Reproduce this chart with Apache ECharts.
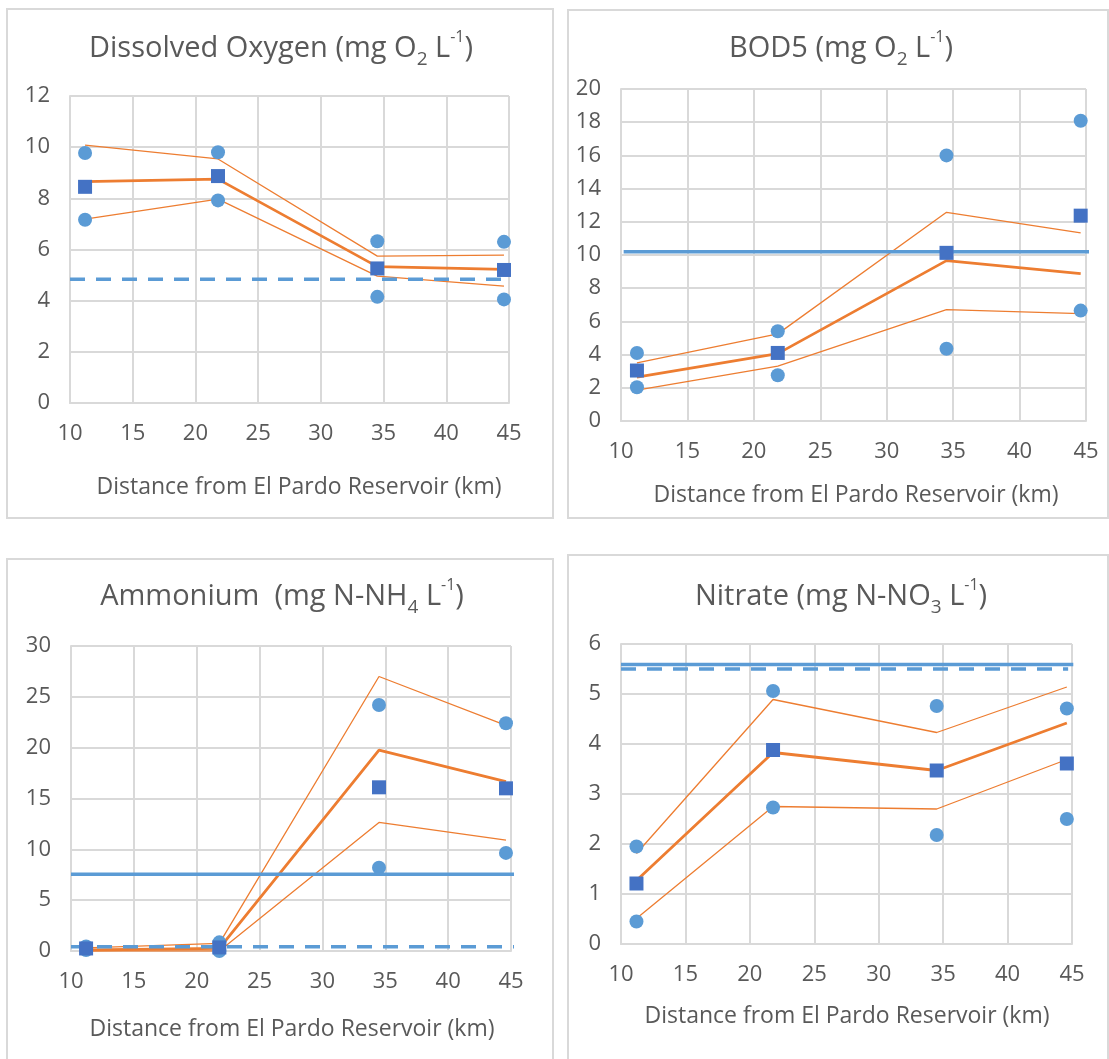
<!DOCTYPE html>
<html><head><meta charset="utf-8">
<script src="https://cdn.jsdelivr.net/npm/echarts@6/dist/echarts.min.js"></script>
<style>html,body{margin:0;padding:0;background:#fff}#c{width:1109px;height:1059px}</style>
</head><body><div id="c"></div>
<script>
// ---------- data ----------
const xTickLabels = [10, 15, 20, 25, 30, 35, 40, 45];
const distance = [11.2, 21.8, 34.5, 44.6];

// Dissolved oxygen (mg O2 L-1)
const doMax = [9.77, 9.8, 6.32, 6.3];
const doMin = [7.16, 7.92, 4.15, 4.05];
const doMean = [8.45, 8.87, 5.26, 5.2];
const doFit = [8.65, 8.75, 5.33, 5.22];
const doFitUp = [10.08, 9.54, 5.74, 5.78];
const doFitLow = [7.19, 7.97, 4.96, 4.57];
const doLimitDashed = 4.84;
const doDashedSpan = [10, 45.6];

// BOD5 (mg O2 L-1)
const bodMax = [4.1, 5.41, 16.0, 18.09];
const bodMin = [2.03, 2.76, 4.35, 6.65];
const bodMean = [3.04, 4.1, 10.13, 12.37];
const bodFit = [2.64, 4.06, 9.66, 8.88];
const bodFitUp = [3.5, 5.25, 12.57, 11.33];
const bodFitLow = [1.86, 3.3, 6.71, 6.47];
const bodLimitSolid = 10.19;
const bodSolidSpan = [10.2, 45.4];

// Ammonium (mg N-NH4 L-1)
const nhMax = [0.45, 0.85, 24.2, 22.4];
const nhMin = [0.1, 0.0, 8.2, 9.65];
const nhMean = [0.25, 0.35, 16.1, 16.0];
const nhFit = [0.1, 0.25, 19.75, 16.65];
const nhFitUp = [0.3, 0.75, 27.0, 22.2];
const nhFitLow = [0.0, 0.0, 12.65, 10.9];
const nhLimitSolid = 7.54;
const nhLimitDashed = 0.42;
const nhSolidSpan = [10, 45.5];
const nhDashedSpan = [10, 45.7];

// Nitrate (mg N-NO3 L-1)
const no3Max = [1.95, 5.06, 4.76, 4.71];
const no3Min = [0.45, 2.73, 2.18, 2.5];
const no3Mean = [1.21, 3.88, 3.47, 3.61];
const no3Fit = [1.27, 3.83, 3.47, 4.42];
const no3FitUp = [1.81, 4.89, 4.23, 5.14];
const no3FitLow = [0.51, 2.75, 2.7, 3.69];
const no3LimitSolid = 5.59;
const no3LimitDashed = 5.5;
const no3SolidSpan = [10, 45.1];
const no3DashedSpan = [10, 44.7];

// ---------- styling ----------
const FONT = 'Open Sans';
const TXT = '#595959';
const GRID = '#d9d9d9';
const ORANGE = '#ed7d31';
const LBLUE = '#5b9bd5';
const DBLUE = '#4472c4';

const pair = (ys) => distance.map((x, i) => [x, ys[i]]);
const hline = (span, v) => span.map(x => [x, v]);

const panels = [
  { title: 'Dissolved Oxygen (mg O{sub|2} L{sup|-1})', tx: 281, ty: 49, nx: 299, ny: 487,
    grid: { left: 70, top: 96, width: 439, height: 307 }, yMax: 12, yInt: 2,
    max: doMax, min: doMin, mean: doMean, fit: doFit, up: doFitUp, low: doFitLow,
    solid: null, dashed: [doDashedSpan, doLimitDashed] },
  { title: 'BOD5 (mg O{sub|2} L{sup|-1})', tx: 841, ty: 49, nx: 856, ny: 495,
    grid: { left: 621, top: 89, width: 465, height: 332 }, yMax: 20, yInt: 2,
    max: bodMax, min: bodMin, mean: bodMean, fit: bodFit, up: bodFitUp, low: bodFitLow,
    solid: [bodSolidSpan, bodLimitSolid], dashed: null },
  { title: 'Ammonium  (mg N-NH{sub|4} L{sup|-1})', tx: 282, ty: 597, nx: 292, ny: 1029,
    grid: { left: 71, top: 646, width: 440, height: 305 }, yMax: 30, yInt: 5,
    max: nhMax, min: nhMin, mean: nhMean, fit: nhFit, up: nhFitUp, low: nhFitLow,
    solid: [nhSolidSpan, nhLimitSolid], dashed: [nhDashedSpan, nhLimitDashed] },
  { title: 'Nitrate (mg N-NO{sub|3} L{sup|-1})', tx: 841, ty: 597, nx: 847, ny: 1016,
    grid: { left: 621, top: 644, width: 451, height: 300 }, yMax: 6, yInt: 1,
    max: no3Max, min: no3Min, mean: no3Mean, fit: no3Fit, up: no3FitUp, low: no3FitLow,
    solid: [no3SolidSpan, no3LimitSolid], dashed: [no3DashedSpan, no3LimitDashed] }
];

const titleRich = {
  sub: { fontFamily: FONT, fontSize: 19, color: TXT, verticalAlign: 'bottom', lineHeight: 20 },
  sup: { fontFamily: FONT, fontSize: 16, color: TXT, verticalAlign: 'top', lineHeight: 26 }
};

const option = {
  animation: false,
  backgroundColor: '#fff',
  graphic: [
    { type: 'rect', shape: { x: 7, y: 9, width: 546, height: 509 }, style: { fill: 'none', stroke: GRID, lineWidth: 2 }, z: -1 },
    { type: 'rect', shape: { x: 568, y: 10, width: 540, height: 508 }, style: { fill: 'none', stroke: GRID, lineWidth: 2 }, z: -1 },
    { type: 'rect', shape: { x: 7, y: 559, width: 546, height: 520 }, style: { fill: 'none', stroke: GRID, lineWidth: 2 }, z: -1 },
    { type: 'rect', shape: { x: 568, y: 555, width: 540, height: 520 }, style: { fill: 'none', stroke: GRID, lineWidth: 2 }, z: -1 }
  ],
  title: [],
  grid: [], xAxis: [], yAxis: [], series: []
};

panels.forEach((p, i) => {
  option.title.push({
    text: p.title, left: p.tx, top: p.ty, textAlign: 'center', textVerticalAlign: 'middle', padding: 0,
    textStyle: { fontFamily: FONT, fontSize: 29, fontWeight: 'normal', color: TXT, lineHeight: 40, rich: titleRich }
  });
  option.title.push({
    text: 'Distance from El Pardo Reservoir (km)', left: p.nx, top: p.ny, textAlign: 'center', textVerticalAlign: 'middle', padding: 0,
    textStyle: { fontFamily: FONT, fontSize: 23, fontWeight: 'normal', color: TXT }
  });
  option.grid.push(Object.assign({ containLabel: false }, p.grid));
  option.xAxis.push({
    type: 'value', gridIndex: i, min: xTickLabels[0], max: xTickLabels[xTickLabels.length - 1], interval: 5,
    axisLine: { show: true, lineStyle: { color: GRID, width: 2 } }, axisTick: { show: false },
    splitLine: { show: true, lineStyle: { color: GRID, width: 2 } },
    axisLabel: { color: TXT, fontFamily: FONT, fontSize: 22, margin: 20 }
  });
  option.yAxis.push({
    type: 'value', gridIndex: i, min: 0, max: p.yMax, interval: p.yInt,
    axisLine: { show: true, lineStyle: { color: GRID, width: 2 } }, axisTick: { show: false },
    splitLine: { show: true, lineStyle: { color: GRID, width: 2 } },
    axisLabel: { color: TXT, fontFamily: FONT, fontSize: 22, margin: 20 }
  });
  const base = { xAxisIndex: i, yAxisIndex: i, silent: true };
  const thin = { type: 'line', symbol: 'none', lineStyle: { color: ORANGE, width: 1.3 }, z: 2 };
  option.series.push(Object.assign({}, base, thin, { data: pair(p.up) }));
  option.series.push(Object.assign({}, base, thin, { data: pair(p.low) }));
  option.series.push(Object.assign({}, base, { type: 'line', symbol: 'none', lineStyle: { color: ORANGE, width: 2.8 }, z: 2, data: pair(p.fit) }));
  if (p.solid) option.series.push(Object.assign({}, base, { type: 'line', symbol: 'none', clip: false, lineStyle: { color: LBLUE, width: 3.5 }, z: 3, data: hline(p.solid[0], p.solid[1]) }));
  if (p.dashed) option.series.push(Object.assign({}, base, { type: 'line', symbol: 'none', clip: false, lineStyle: { color: LBLUE, width: 3.5, type: [15, 11] }, z: 3, data: hline(p.dashed[0], p.dashed[1]) }));
  option.series.push(Object.assign({}, base, { type: 'scatter', symbol: 'circle', symbolSize: 14, itemStyle: { color: LBLUE, opacity: 1 }, z: 4, data: pair(p.max) }));
  option.series.push(Object.assign({}, base, { type: 'scatter', symbol: 'circle', symbolSize: 14, itemStyle: { color: LBLUE, opacity: 1 }, z: 4, data: pair(p.min) }));
  option.series.push(Object.assign({}, base, { type: 'scatter', symbol: 'rect', symbolSize: 14, itemStyle: { color: DBLUE, opacity: 1 }, z: 5, data: pair(p.mean) }));
});

const chart = echarts.init(document.getElementById('c'), null, { renderer: 'canvas' });
chart.setOption(option);
</script>
</body></html>
